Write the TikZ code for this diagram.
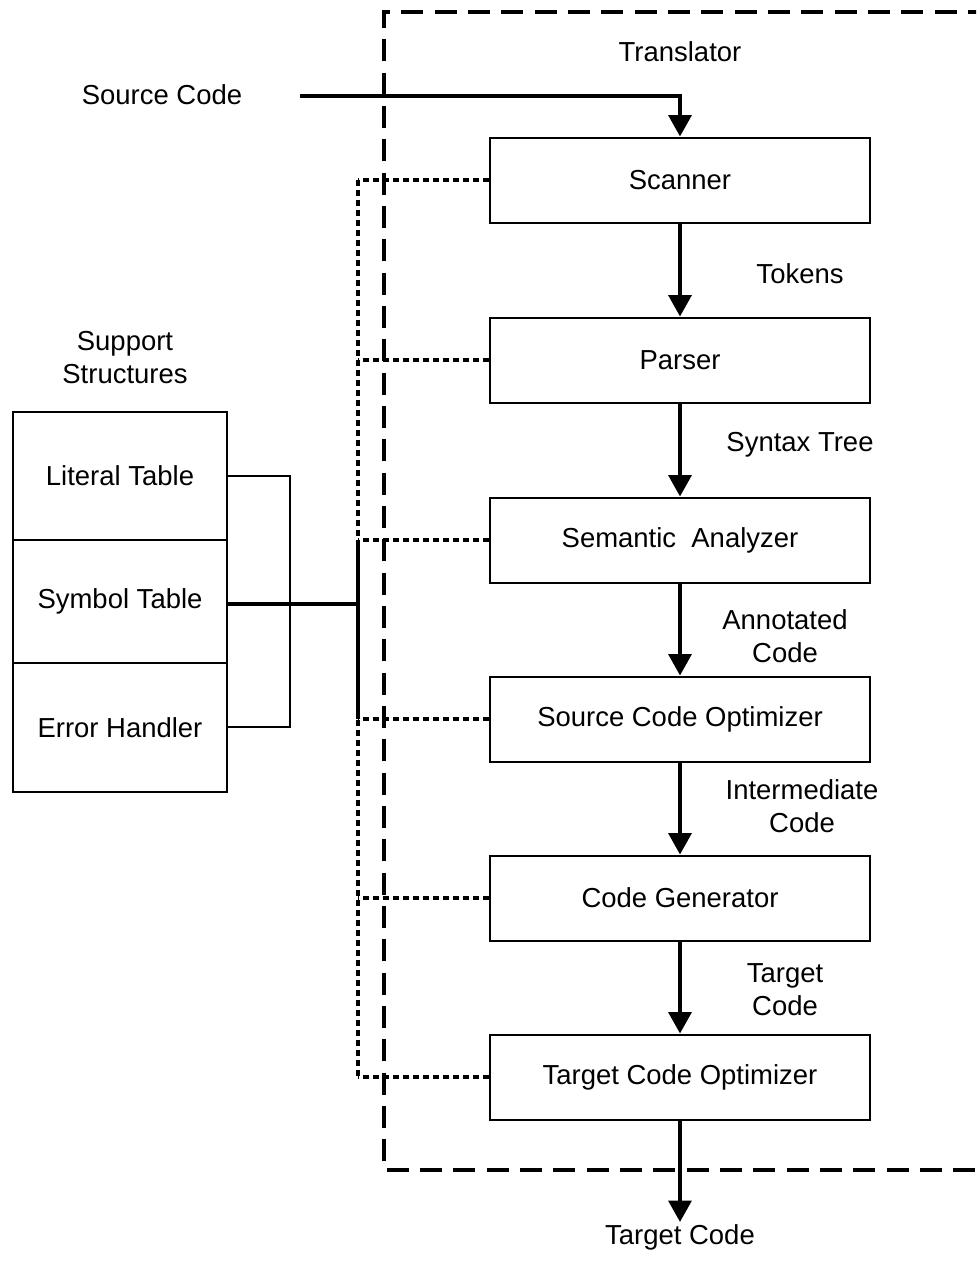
\documentclass[tikz,border=0pt]{standalone}
\usepackage{fontspec}
\setmainfont{Liberation Sans}
\usetikzlibrary{arrows.meta}
\begin{document}
\begin{tikzpicture}[x=0.75pt,y=-0.75pt,
  font=\fontsize{20.6}{24.75}\selectfont,
  stage/.style={draw,line width=1.5pt,minimum width=285pt,minimum height=63.75pt,inner sep=0pt},
  store/.style={draw,line width=1.5pt,minimum width=160.5pt,inner sep=0pt},
  label/.style={align=center,inner sep=0pt},
  flow/.style={line width=3pt,-{Triangle[width=17pt,length=16pt]}},
  link/.style={line width=2.6pt,dash pattern=on 4.5pt off 3pt},
  thin/.style={line width=1.5pt},
  trunk/.style={line width=3pt}]
\useasboundingbox (0,0) rectangle (976,1281);
\clip (0,0) rectangle (976,1281);

% translator boundary
\draw[line width=3pt,dash pattern=on 16.5pt off 8.5pt] (990,12) -- (384,12) -- (384,1170) -- (990,1170);
\node[label] (trans) at (680,52) {Translator};

% translator stages
\node[stage] (scan) at (680,180) {Scanner};
\node[stage] (pars) at (680,360) {Parser};
\node[stage] (sem)  at (680,540) {Semantic\ \ Analyzer};
\node[stage] (sco)  at (680,719) {Source Code Optimizer};
\node[stage] (gen)  at (680,898) {Code Generator};
\node[stage] (tco)  at (680,1077) {Target Code Optimizer};

% input and output
\node[label] (src) at (162,95) {Source Code};
\coordinate (srcend) at (300,96);
\draw[flow] (srcend) -| (scan.north);
\coordinate (outend) at (680,1222);
\draw[flow] (tco.south) -- (outend);
\node[label] (tgt) at (680,1237) {Target Code};

% stage-to-stage flow with intermediate products
\draw[flow] (scan.south) -- (pars.north);
\draw[flow] (pars.south) -- (sem.north);
\draw[flow] (sem.south) -- (sco.north);
\draw[flow] (sco.south) -- (gen.north);
\draw[flow] (gen.south) -- (tco.north);
\node[label] (l1) at (800,274) {Tokens};
\node[label] (l2) at (800,445) {Syntax Tree};
\node[label] (l3) at (785,636) {Annotated\\Code};
\node[label] (l4) at (802,806) {Intermediate\\Code};
\node[label] (l5) at (785,990) {Target\\Code};

% support structures
\node[label] (supp) at (125,358) {Support\\Structures};
\node[store,minimum height=96pt]  (lit) at (120,476) {Literal Table};
\node[store,minimum height=92.25pt] (sym) at (120,601.5) {Symbol Table};
\node[store,minimum height=96.75pt] (err) at (120,727.5) {Error Handler};

% grouping bracket
\coordinate (bt) at (290,476);
\coordinate (bb) at (290,727);
\draw[thin] (lit.east |- bt) -- (bt) -- (bb) -- (err.east |- bb);

% shared access bus
\coordinate (bus1) at (358,180);
\coordinate (bus6) at (358,1077);
\draw[link] (bus1) -- (bus6);
\foreach \s in {scan,pars,sem,sco,gen,tco}
  \draw[link] (\s.west) -- (\s.west -| bus1);
\coordinate (junc) at (358,604);
\draw[trunk] (sym.east |- junc) -- (junc);
\draw[trunk] (sem.west -| bus1) -- (sco.west -| bus1);
\end{tikzpicture}
\end{document}
